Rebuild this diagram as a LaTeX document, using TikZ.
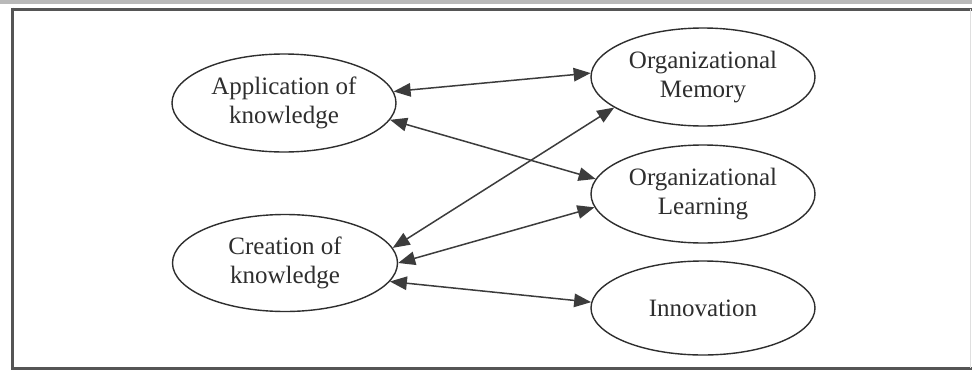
\documentclass[tikz,border=0pt]{standalone}
\usepackage{fontspec}
\setmainfont{Liberation Serif}
\usetikzlibrary{shapes.geometric,arrows.meta}
\definecolor{inkdark}{HTML}{2E2E2E}
\definecolor{arrowgray}{HTML}{3C3C3C}
\definecolor{framegray}{HTML}{555555}
\tikzset{
  concept/.style={ellipse, draw=inkdark, line width=1.4pt, inner sep=0pt,
    minimum width=224pt, minimum height=98pt, align=center, text=inkdark,
    font=\fontsize{25}{28.5}\selectfont},
  link/.style={draw=arrowgray, line width=1.5pt,
    {Triangle[length=17pt,width=13.5pt]}-{Triangle[length=17pt,width=13.5pt]}}
}
\begin{document}
\begin{tikzpicture}[x=1pt,y=-1pt]
\useasboundingbox (0,0) rectangle (972,375);
\fill[white] (0,0) rectangle (972,375);
% outer frame
\fill[gray!55] (0,0) rectangle (972,3.5);
\draw[framegray, line width=3pt] (12.5,9) -- (972,9);
\draw[framegray, line width=3pt] (12.5,7.5) -- (12.5,369.5);
\draw[framegray, line width=3pt] (11,368) -- (972,368);
\draw[gray!25, line width=1pt] (970,9) -- (970,368);
% concepts
\node[concept] (app) at (284,103) {Application of\\knowledge};
\node[concept, minimum width=225pt, minimum height=97pt] (cre) at (285,263) {Creation of\\knowledge};
\node[concept] (mem) at (703,77) {Organizational\\Memory};
\node[concept] (lea) at (703,194) {Organizational\\Learning};
\node[concept, minimum height=94pt] (inn) at (703,308) {Innovation};
% relations
\draw[link] (app.6) -- (mem.178);
\draw[link] (app.-9) -- (lea.172);
\draw[link] (cre.8) -- (mem.199);
\draw[link] (cre.0.5) -- (lea.187);
\draw[link] (cre.-10) -- (inn.177);
\end{tikzpicture}
\end{document}
